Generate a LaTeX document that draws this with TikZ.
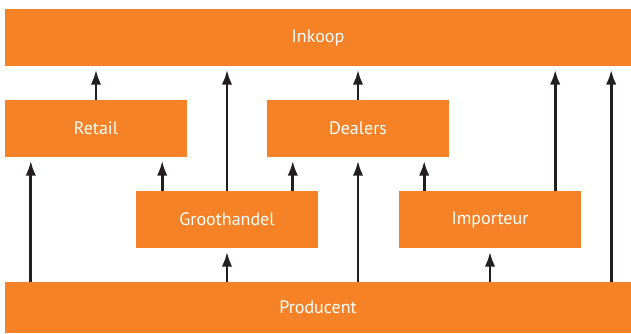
\documentclass[tikz,border=0pt]{standalone}
\usepackage{fontspec}
\setmainfont{PT Sans}
\usetikzlibrary{arrows.meta, positioning}
\definecolor{chainorange}{RGB}{245,130,38}
\definecolor{arrowblack}{RGB}{35,31,32}
\tikzstyle{level} = [rectangle, minimum width=626, minimum height=57, inner sep=0, text=white, text centered, fill=chainorange, font=\fontsize{18}{20}\selectfont]
\tikzstyle{party} = [rectangle, minimum width=182, minimum height=57, inner sep=0, text=white, text centered, fill=chainorange, font=\fontsize{18}{20}\selectfont]
\tikzstyle{flow} = [line width=2.7pt, arrowblack, -{Latex[length=15pt,width=10.5pt]}, shorten >=3.5pt]

\begin{document}
\begin{tikzpicture}[x=1pt, y=1pt]
  \useasboundingbox (0,0) rectangle (631,333);
  \node (inkoop) [level] at (318,295.5) {Inkoop};
  \node (producent) [level, minimum height=51] at (318,25.5) {Producent};
  \node (retail) [party] at (96,204.5) {Retail};
  \node (dealers) [party] at (358,204.5) {Dealers};
  \node (groot) [party] at (227,113.5) {Groothandel};
  \node (importeur) [party] at (490,113.5) {Importeur};
  % naar inkoop
  \draw [flow] (retail.north) -- (retail.north |- inkoop.south);
  \draw [flow] (groot.north) -- (groot.north |- inkoop.south);
  \draw [flow] (dealers.north) -- (dealers.north |- inkoop.south);
  \draw [flow] ([xshift=-26]importeur.north east) -- ([xshift=-26]importeur.north east |- inkoop.south);
  \draw [flow] ([xshift=-20]producent.north east) -- ([xshift=-20]inkoop.south east);
  % naar retail en dealers
  \draw [flow] ([xshift=26]producent.north -| retail.west) -- ([xshift=26]retail.south west);
  \draw [flow] ([xshift=-25]groot.north -| retail.east) -- ([xshift=-25]retail.south east);
  \draw [flow] ([xshift=26]groot.north -| dealers.west) -- ([xshift=26]dealers.south west);
  \draw [flow] (producent.north -| dealers) -- (dealers.south);
  \draw [flow] ([xshift=-25]importeur.north -| dealers.east) -- ([xshift=-25]dealers.south east);
  % vanaf producent
  \draw [flow] (producent.north -| groot) -- (groot.south);
  \draw [flow] (producent.north -| importeur) -- (importeur.south);
\end{tikzpicture}
\end{document}
